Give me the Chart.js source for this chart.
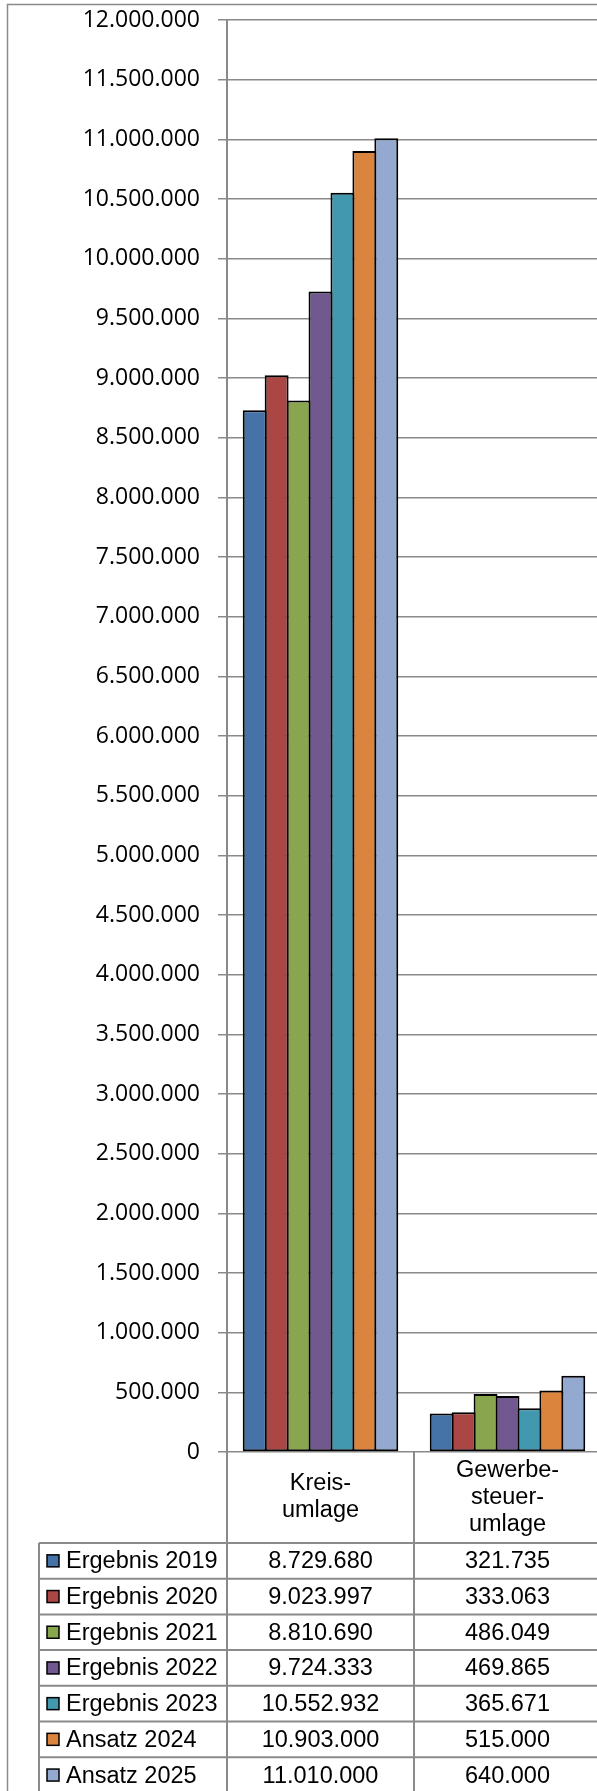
<!DOCTYPE html>
<html>
<head>
<meta charset="utf-8">
<title>Kreisumlage und Gewerbesteuerumlage</title>
<script src="https://cdn.jsdelivr.net/npm/chart.js@4/dist/chart.umd.min.js"></script>
<style>
  html, body { margin: 0; padding: 0; overflow: hidden; background: #ffffff; }
  canvas { display: block; }
</style>
</head>
<body>
<canvas id="chart" width="620" height="1791"></canvas>
<script>
// Categories (multi-line header labels of the data table)
const categories = [['Kreis-', 'umlage'], ['Gewerbe-', 'steuer-', 'umlage']];

// Series names and colours
const seriesNames = ['Ergebnis 2019', 'Ergebnis 2020', 'Ergebnis 2021', 'Ergebnis 2022',
                     'Ergebnis 2023', 'Ansatz 2024', 'Ansatz 2025'];
const seriesColors = ['#4572A7', '#AA4643', '#89A54E', '#71588F', '#4198AF', '#DB843D', '#93A9CF'];

// Values per series: [Kreisumlage, Gewerbesteuerumlage]
const ergebnis2019 = [8729680, 321735];
const ergebnis2020 = [9023997, 333063];
const ergebnis2021 = [8810690, 486049];
const ergebnis2022 = [9724333, 469865];
const ergebnis2023 = [10552932, 365671];
const ansatz2024   = [10903000, 515000];
const ansatz2025   = [11010000, 640000];
const seriesValues = [ergebnis2019, ergebnis2020, ergebnis2021, ergebnis2022,
                      ergebnis2023, ansatz2024, ansatz2025];

// Value axis
const yMin = 0;
const yMax = 12000000;
const yStep = 500000;

// German thousands separators
function fmt(n) {
  return String(Math.round(n)).replace(/\B(?=(\d{3})+(?!\d))/g, '.');
}

const LINE = '#8a8a8a';
const HEADER_H = 91;
const ROW_H = 35.7;
const TABLE_LEFT = 39;
const TABLE_FONT = '23.5px "Liberation Sans", Arial, sans-serif';

// Outer frame of the chart
const framePlugin = {
  id: 'frame',
  beforeDraw(chart) {
    const ctx = chart.ctx;
    ctx.save();
    ctx.strokeStyle = LINE;
    ctx.lineWidth = 1.5;
    ctx.strokeRect(7.5, 4.5, chart.width + 20, chart.height + 20);
    ctx.restore();
  }
};

// Data table below the plot: header row with categories, one row per series
const dataTablePlugin = {
  id: 'dataTable',
  afterDraw(chart) {
    const ctx = chart.ctx;
    const x = chart.scales.x;
    const area = chart.chartArea;
    const n = categories.length;
    const half = (x.getPixelForValue(1) - x.getPixelForValue(0)) / 2;
    const colEdges = [];
    for (let i = 0; i <= n; i++) colEdges.push(x.getPixelForValue(0) - half + i * 2 * half);
    const headTop = area.bottom;
    const rowsTop = headTop + HEADER_H;
    const bottom = rowsTop + ROW_H * seriesNames.length;

    ctx.save();
    ctx.strokeStyle = LINE;
    ctx.lineWidth = 2;

    // vertical lines of the value columns (axis line continues downwards)
    colEdges.forEach((cx, i) => {
      ctx.beginPath();
      ctx.moveTo(cx, i === 0 ? area.top : headTop);
      ctx.lineTo(cx, bottom);
      ctx.stroke();
    });
    // left edge of the legend column
    ctx.beginPath();
    ctx.moveTo(TABLE_LEFT, rowsTop);
    ctx.lineTo(TABLE_LEFT, bottom);
    ctx.stroke();
    // horizontal row lines
    for (let r = 0; r <= seriesNames.length; r++) {
      const y = rowsTop + r * ROW_H;
      ctx.beginPath();
      ctx.moveTo(TABLE_LEFT, y);
      ctx.lineTo(colEdges[n], y);
      ctx.stroke();
    }

    ctx.fillStyle = '#000000';
    ctx.font = TABLE_FONT;
    ctx.textBaseline = 'middle';

    // header: category names, centred in the header row
    ctx.textAlign = 'center';
    const lh = 27;
    categories.forEach((lines, i) => {
      const cx = x.getPixelForValue(i);
      const cy = headTop + HEADER_H / 2 - (lines.length - 1) * lh / 2;
      lines.forEach((t, j) => ctx.fillText(t, cx, cy + j * lh));
    });

    // rows: legend key, series name, values
    seriesNames.forEach((name, r) => {
      const cy = rowsTop + r * ROW_H + ROW_H / 2;
      ctx.fillStyle = seriesColors[r];
      ctx.fillRect(47, cy - 6, 12, 12);
      ctx.strokeStyle = '#000000';
      ctx.lineWidth = 1.5;
      ctx.strokeRect(47, cy - 6, 12, 12);
      ctx.fillStyle = '#000000';
      ctx.textAlign = 'left';
      ctx.fillText(name, 66, cy + 1);
      ctx.textAlign = 'center';
      seriesValues[r].forEach((v, i) => {
        ctx.fillText(fmt(v), x.getPixelForValue(i), cy + 1);
      });
    });
    ctx.restore();
  }
};

const datasets = seriesNames.map((name, i) => ({
  label: name,
  data: seriesValues[i],
  backgroundColor: seriesColors[i],
  borderColor: '#000000',
  borderWidth: 2,
  borderSkipped: false,
  categoryPercentage: 0.821,
  barPercentage: 1.091
}));

new Chart(document.getElementById('chart'), {
  type: 'bar',
  data: {
    labels: categories.map(c => c.join('')),
    datasets: datasets
  },
  options: {
    responsive: false,
    animation: false,
    devicePixelRatio: 1,
    layout: { padding: { top: 20, right: 19, bottom: 339, left: 0 } },
    plugins: {
      legend: { display: false },
      tooltip: { enabled: false },
      title: { display: false }
    },
    scales: {
      x: {
        display: false,
        offset: true
      },
      y: {
        min: yMin,
        max: yMax,
        afterFit(scale) {
          scale.width = 227;
          scale.paddingTop = 0;
          scale.paddingBottom = 0;
        },
        ticks: {
          stepSize: yStep,
          padding: 18,
          color: '#000000',
          font: { family: '"Open Sans", sans-serif', size: 23 },
          callback: v => fmt(v)
        },
        grid: {
          color: LINE,
          lineWidth: 1.5,
          tickLength: 9,
          drawTicks: true
        },
        border: { color: LINE, width: 2 }
      }
    }
  },
  plugins: [framePlugin, dataTablePlugin]
});
</script>
</body>
</html>
